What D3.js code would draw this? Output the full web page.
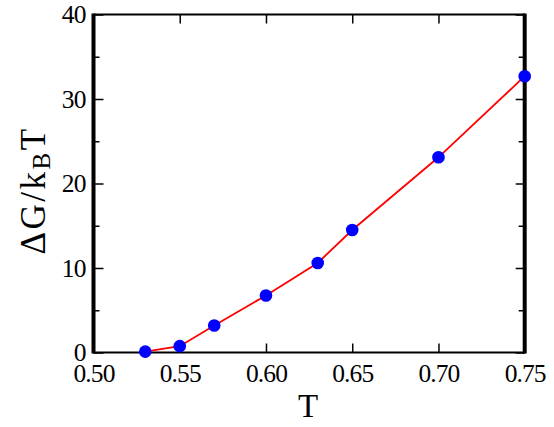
<!DOCTYPE html>
<html>
<head>
<meta charset="utf-8">
<script src="https://cdn.jsdelivr.net/npm/d3@7"></script>
<style>
  body { margin: 0; background: #fff; }
  svg { display: block; }
  text { fill: #000; }
</style>
</head>
<body>
<svg id="chart" width="554" height="427"></svg>
<script>
// temperature and free energy barrier
const temps = [0.53, 0.55, 0.57, 0.60, 0.63, 0.65, 0.70, 0.75];
const barrier = [0.1, 0.75, 3.2, 6.75, 10.6, 14.5, 23.1, 32.7];
const xTicks = [0.50, 0.55, 0.60, 0.65, 0.70, 0.75];
const yTicks = [0, 10, 20, 30, 40];
const yMinor = [5, 15, 25, 35];

const serif = "Liberation Serif, Times New Roman, DejaVu Serif, serif";
const plotL = 93.5, plotR = 524.7, plotT = 14.5, plotB = 352.5;

const x = d3.scaleLinear().domain([0.5, 0.75]).range([plotL, plotR]);
const y = d3.scaleLinear().domain([0, 40]).range([plotB, plotT]);

const svg = d3.select("#chart").style("font-family", serif);
const data = temps.map((t, i) => ({ t: t, g: barrier[i] }));

// bottom axis with labels, ticks pointing in
svg.append("g")
  .attr("transform", `translate(0,${plotB})`)
  .call(d3.axisBottom(x).tickValues(xTicks).tickFormat(d3.format(".2f"))
    .tickSizeInner(-9).tickSizeOuter(0).tickPadding(11));

// top axis, ticks only
svg.append("g")
  .attr("transform", `translate(0,${plotT})`)
  .call(d3.axisTop(x).tickValues(xTicks).tickFormat("")
    .tickSizeInner(-9).tickSizeOuter(0));

// left axis with labels
svg.append("g")
  .attr("transform", `translate(${plotL},0)`)
  .call(d3.axisLeft(y).tickValues(yTicks)
    .tickSizeInner(-10).tickSizeOuter(0).tickPadding(8));
svg.append("g")
  .attr("transform", `translate(${plotL},0)`)
  .call(d3.axisLeft(y).tickValues(yMinor).tickFormat("")
    .tickSizeInner(-6).tickSizeOuter(0));

// right axis, ticks only
svg.append("g")
  .attr("transform", `translate(${plotR},0)`)
  .call(d3.axisRight(y).tickValues(yTicks).tickFormat("")
    .tickSizeInner(-9).tickSizeOuter(0));
svg.append("g")
  .attr("transform", `translate(${plotR},0)`)
  .call(d3.axisRight(y).tickValues(yMinor).tickFormat("")
    .tickSizeInner(-6).tickSizeOuter(0));

svg.selectAll("g").attr("font-family", null).attr("font-size", null);
svg.selectAll(".tick text")
  .style("font-family", serif)
  .style("font-size", "25.5px")
  .attr("letter-spacing", -0.9);
svg.selectAll(".tick line").attr("stroke", "#000").attr("stroke-width", 1.5);
svg.selectAll(".domain").attr("stroke", "none");

// frame: thick left/right, thin top/bottom
svg.append("line").attr("x1", plotL).attr("x2", plotR).attr("y1", plotT).attr("y2", plotT)
  .attr("stroke", "#000").attr("stroke-width", 2.2);
svg.append("line").attr("x1", plotL).attr("x2", plotR).attr("y1", plotB).attr("y2", plotB)
  .attr("stroke", "#000").attr("stroke-width", 2.2);
svg.append("line").attr("x1", plotL).attr("x2", plotL).attr("y1", plotT - 1.1).attr("y2", plotB + 1.1)
  .attr("stroke", "#000").attr("stroke-width", 4);
svg.append("line").attr("x1", plotR).attr("x2", plotR).attr("y1", plotT - 1.1).attr("y2", plotB + 1.1)
  .attr("stroke", "#000").attr("stroke-width", 4);

// curve
const line = d3.line().x((d) => x(d.t)).y((d) => y(d.g));
svg.append("path")
  .datum(data)
  .attr("d", line)
  .attr("fill", "none")
  .attr("stroke", "#ff0000")
  .attr("stroke-width", 1.8);

svg.append("g")
  .selectAll("circle")
  .data(data)
  .enter()
  .append("circle")
  .attr("cx", (d) => x(d.t))
  .attr("cy", (d) => y(d.g))
  .attr("r", 6.3)
  .attr("fill", "#0000ff");

// axis titles
svg.append("text")
  .attr("x", (plotL + plotR) / 2 - 1)
  .attr("y", 417)
  .attr("text-anchor", "middle")
  .style("font-family", serif)
  .style("font-size", "33px")
  .text("T");

const yTitle = svg.append("text")
  .attr("transform", `translate(45,${(plotT + plotB) / 2 + 7}) rotate(-90)`)
  .attr("text-anchor", "middle")
  .style("font-family", serif)
  .style("font-size", "35px")
  .attr("letter-spacing", 2.5);
yTitle.append("tspan").text("ΔG/k");
yTitle.append("tspan").attr("dy", 5).style("font-size", "25px").text("B");
yTitle.append("tspan").attr("dy", -5).text("T");
</script>
</body>
</html>
